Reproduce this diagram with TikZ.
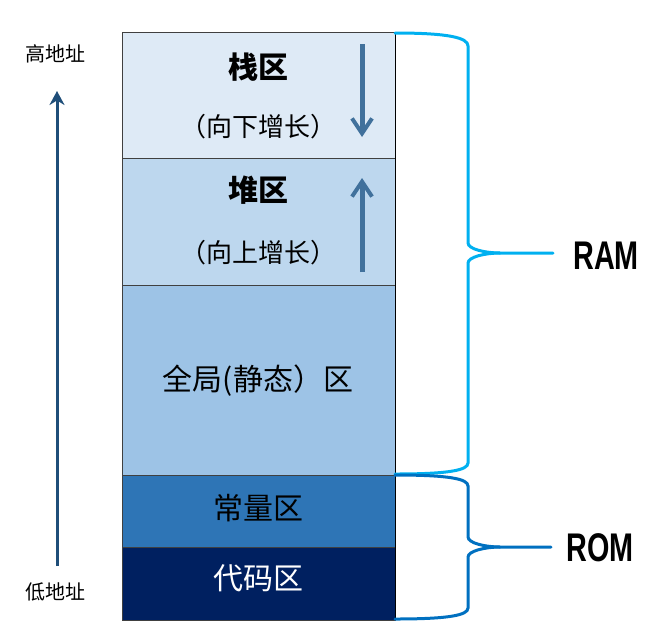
\documentclass[tikz,border=0pt]{standalone}
\usepackage{fontspec}
\usepackage{xcolor}
\usetikzlibrary{arrows.meta}

\newfontfamily\cjk{Noto Sans CJK SC}
\newfontfamily\narrowsans{Liberation Sans}

\definecolor{stackblue}{HTML}{DEEAF6}
\definecolor{heapblue}{HTML}{BDD7EE}
\definecolor{globalblue}{HTML}{9DC3E6}
\definecolor{constblue}{HTML}{2E75B6}
\definecolor{codeblue}{HTML}{002060}
\definecolor{ramcyan}{HTML}{00B0F0}
\definecolor{romblue}{HTML}{0070C0}
\definecolor{growblue}{HTML}{41719C}
\definecolor{addrblue}{HTML}{1F4E79}

\tikzset{
	areatitle/.style={font=\cjk\bfseries\fontsize{30}{30}\selectfont},
	areanote/.style={font=\cjk\fontsize{26}{26}\selectfont},
	areaname/.style={font=\cjk\fontsize{30}{30}\selectfont},
	addrlabel/.style={font=\cjk\fontsize{20}{20}\selectfont},
	memlabel/.style={font=\narrowsans\bfseries\fontsize{40}{40}\selectfont},
	growarrow/.style={draw=growblue,line width=5pt,-{Straight Barb[length=15pt,width=20pt,line width=4pt]}},
	brace/.style={line width=3pt,line cap=round}
}

\begin{document}
\begin{tikzpicture}[x=1pt,y=-1pt]
		\useasboundingbox (0,0) rectangle (669,641);
		% memory areas
		\foreach \top/\bot/\col in {32/158/stackblue,158/285/heapblue,285/475/globalblue,475/547/constblue,547/620/codeblue}
			\filldraw [fill=\col,draw=black!75,line width=1pt] (122,\top) rectangle (395,\bot);
		\draw [black,line width=1pt] (395,32) -- (395,620);
		%
		\node [areatitle] (stack) at (258,67) {栈区};
		\node [areanote] (stackdir) at (258,127) {（向下增长）};
		\node [areatitle] (heap) at (258,190) {堆区};
		\node [areanote] (heapdir) at (258,253) {（向上增长）};
		\node [areaname] (global) at (258,381) {全局(静态）区};
		\node [areaname] (const) at (258,508) {常量区};
		\node [areaname,text=white] (code) at (258,578) {代码区};
		%
		\coordinate (stacktop) at (362,44);
		\coordinate (stackend) at (362,137);
		\coordinate (heapbot) at (362,272);
		\coordinate (heapend) at (362,178);
		\draw [growarrow] (stacktop) -- (stackend);
		\draw [growarrow] (heapbot) -- (heapend);
		% address direction
		\node [addrlabel] (high) at (55,54) {高地址};
		\node [addrlabel] (low) at (55,592) {低地址};
		\draw [addrblue,line width=3pt,-{Stealth[length=14pt,width=15pt]}] (57,566) -- (57,91);
		% RAM / ROM braces
		\node [memlabel] (ram) at (606,256) {\scalebox{0.72}[1]{RAM}};
		\node [memlabel] (rom) at (600,548) {\scalebox{0.72}[1]{ROM}};
		\draw [brace,ramcyan] (395,33) .. controls (450,33) and (468,38) .. (468,46) -- (468,243)
			.. controls (468,249) and (485,253) .. (500,253) -- (553,253);
		\draw [brace,ramcyan] (500,253) .. controls (485,253) and (468,257) .. (468,263) -- (468,463)
			.. controls (468,470) and (450,474) .. (395,474);
		\draw [brace,romblue] (395,475) .. controls (450,475) and (468,479) .. (468,486) -- (468,537)
			.. controls (468,543) and (485,547) .. (500,547) -- (551,547);
		\draw [brace,romblue] (500,547) .. controls (485,547) and (468,551) .. (468,557) -- (468,608)
			.. controls (468,615) and (450,619) .. (395,619);
	\end{tikzpicture}
\end{document}
